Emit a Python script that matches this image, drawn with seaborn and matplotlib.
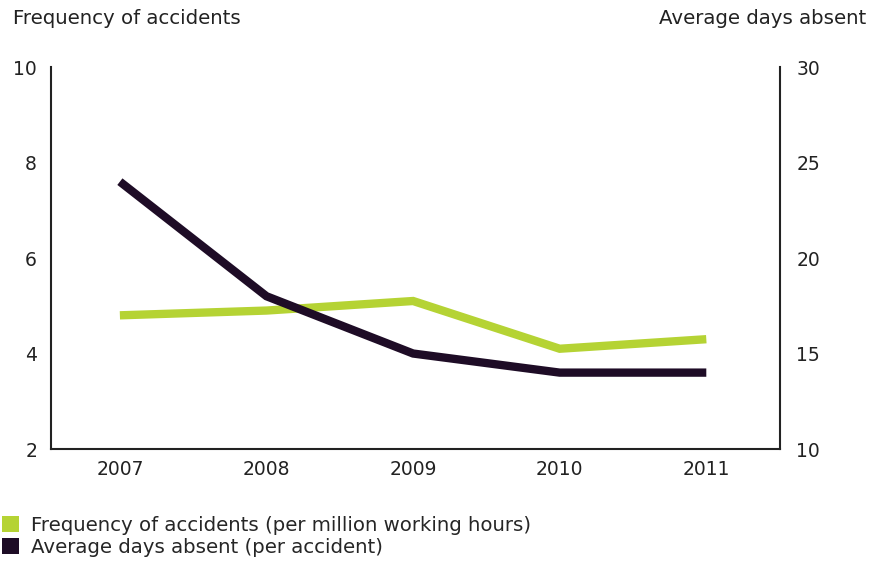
import matplotlib
matplotlib.use("Agg")
import matplotlib.pyplot as plt
import seaborn as sns
import pandas as pd
from matplotlib.patches import Patch

years = [2007, 2008, 2009, 2010, 2011]
frequency = [4.8, 4.9, 5.1, 4.1, 4.3]
days_absent = [24, 18, 15, 14, 14]
left_ticks = [2, 4, 6, 8, 10]
right_ticks = [10, 15, 20, 25, 30]

green = "#b5d334"
dark = "#1e0c26"
text_c = "#222222"

sns.set_style("white")
plt.rcParams['font.family'] = ['DejaVu Sans']

df = pd.DataFrame({"year": years, "freq": frequency, "days": days_absent})

fig = plt.figure(figsize=(8.7, 5.65), dpi=100)
ax = fig.add_axes([0.0586, 0.2053, 0.8375, 0.676])
ax2 = ax.twinx()

sns.lineplot(data=df, x="year", y="freq", ax=ax, color=green, linewidth=6,
             solid_joinstyle="miter", solid_capstyle="butt")
sns.lineplot(data=df, x="year", y="days", ax=ax2, color=dark, linewidth=6,
             solid_joinstyle="miter", solid_capstyle="butt")

ax.set_xlim(2006.53, 2011.5)
ax.set_ylim(2, 10)
ax2.set_ylim(10, 30)
ax.set_yticks(left_ticks)
ax2.set_yticks(right_ticks)
ax.set_xticks(years)
ax.set_xticklabels([str(y) for y in years])
ax.set_xlabel("")
ax.set_ylabel("")
ax2.set_ylabel("")

fs = 13.5
fs_text = 14.2
for a in (ax, ax2):
    for s in a.spines.values():
        s.set_visible(False)
    a.tick_params(length=0, labelsize=fs, colors=text_c)
ax.spines['left'].set_visible(True)
ax.spines['bottom'].set_visible(True)
ax2.spines['right'].set_visible(True)
for s in (ax.spines['left'], ax.spines['bottom'], ax2.spines['right']):
    s.set_color(text_c)
    s.set_linewidth(1.5)
ax.tick_params(axis='y', pad=10)
ax2.tick_params(axis='y', pad=12)
ax.tick_params(axis='x', pad=8)

fig.text(13/870, 1 - 19/565, "Frequency of accidents", fontsize=fs_text, color=text_c,
         ha="left", va="center")
fig.text(866/870, 1 - 19/565, "Average days absent", fontsize=fs_text, color=text_c,
         ha="right", va="center")

handles = [Patch(facecolor=green, edgecolor="none"), Patch(facecolor=dark, edgecolor="none")]
labels = ["Frequency of accidents (per million working hours)", "Average days absent (per accident)"]
fig.legend(handles, labels, loc="upper left", bbox_to_anchor=(2/870, 1 - 516/565),
           frameon=False, fontsize=fs_text, handlelength=0.85, handleheight=0.85,
           handletextpad=0.6, labelspacing=0.15, borderaxespad=0, borderpad=0)

fig.savefig("out.png", dpi=100)
